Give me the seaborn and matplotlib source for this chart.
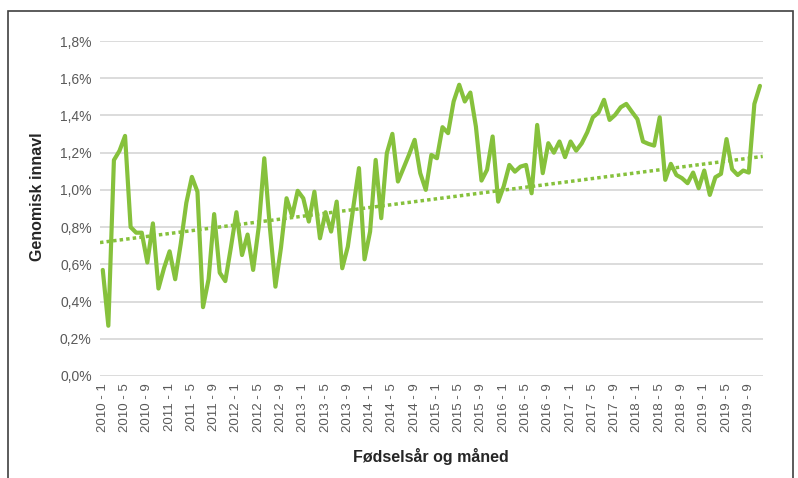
import numpy as np
import pandas as pd
import seaborn as sns
import matplotlib.pyplot as plt
from matplotlib.patches import Rectangle

# monthly values, 2010-1 .. 2019-11 (percent)
innavl = [
    0.57, 0.27, 1.16, 1.21, 1.29, 0.80, 0.77, 0.77, 0.61, 0.82, 0.47, 0.58,
    0.67, 0.52, 0.71, 0.93, 1.07, 0.99, 0.37, 0.52, 0.87, 0.555, 0.51, 0.69,
    0.88, 0.65, 0.76, 0.57, 0.80, 1.17, 0.80, 0.48, 0.69, 0.955, 0.86, 0.995,
    0.955, 0.83, 0.99, 0.74, 0.88, 0.776, 0.937, 0.579, 0.695, 0.91, 1.117, 0.627,
    0.776, 1.161, 0.848, 1.197, 1.301, 1.045, 1.117, 1.19, 1.269, 1.09, 1.0, 1.188,
    1.17, 1.337, 1.305, 1.475, 1.565, 1.475, 1.523, 1.34, 1.05, 1.108, 1.287, 0.937,
    1.02, 1.134, 1.098, 1.125, 1.134, 0.982, 1.349, 1.09, 1.251, 1.20, 1.26, 1.176,
    1.26, 1.211, 1.25, 1.31, 1.39, 1.415, 1.484, 1.376, 1.403, 1.444, 1.462, 1.42,
    1.38, 1.26, 1.247, 1.238, 1.39, 1.054, 1.14, 1.08, 1.063, 1.036, 1.093, 1.009,
    1.104, 0.973, 1.068, 1.086, 1.273, 1.111, 1.08, 1.104, 1.093, 1.462, 1.559,
]
# trend line: value at first and last month
trend_months = [0, len(innavl) - 1]
trend_values = [0.719, 1.178]

years = [2010 + i // 12 for i in range(len(innavl))]
months = [i % 12 + 1 for i in range(len(innavl))]

df = pd.DataFrame({
    "pos": np.arange(len(innavl)),
    "label": [f"{y} - {m}" for y, m in zip(years, months)],
    "innavl": innavl,
})
trend = pd.DataFrame({"pos": trend_months, "innavl": trend_values})

green = "#86C13C"

sns.set_style("white")
plt.rcParams["font.family"] = ["Liberation Sans", "DejaVu Sans"]

fig = plt.figure(figsize=(7.98, 4.78), dpi=100)
ax = fig.add_axes([0.1253, 0.2134, 0.8305, 0.7008])

sns.lineplot(data=df, x="pos", y="innavl", ax=ax, color=green, lw=3.0, zorder=3)
ax.set_xlim(-0.5, len(innavl) - 0.5)
ax.set_ylim(0, 1.8)

# dotted linear trend, stretched over the whole plot width
sns.regplot(data=trend, x="pos", y="innavl", scatter=False, ci=None, truncate=False,
            ax=ax, line_kws=dict(color=green, lw=2.5, ls=(0, (1, 0.9)), zorder=2))
ax.set_xlim(-0.5, len(innavl) - 0.5)
ax.set_ylim(0, 1.8)

ax.set_yticks(np.arange(0, 1.81, 0.2))
ax.set_yticklabels([f"{v:.1f}%".replace(".", ",") for v in np.arange(0, 1.81, 0.2)])
ax.set_xticks(df["pos"][::4])
ax.set_xticklabels(df["label"][::4], rotation=90)
ax.tick_params(axis="both", length=0, labelsize=9.5, colors="#595959", pad=5)
ax.tick_params(axis="y", labelsize=10, pad=6)

ax.grid(axis="y", color="#D9D9D9", lw=1.3)
ax.set_axisbelow(True)
for s in ax.spines.values():
    s.set_visible(False)

ax.set_xlabel("Fødselsår og måned", fontsize=11.5, fontweight="bold", labelpad=12)
ax.set_ylabel("Genomisk innavl", fontsize=11.5, fontweight="bold")
ax.yaxis.set_label_coords(-0.083, 0.535)

fig.patches.append(Rectangle((0.010, -0.05), 0.984, 1.027, transform=fig.transFigure,
                             fill=False, edgecolor="#404040", lw=1.2))

fig.savefig("out.png", dpi=100)
